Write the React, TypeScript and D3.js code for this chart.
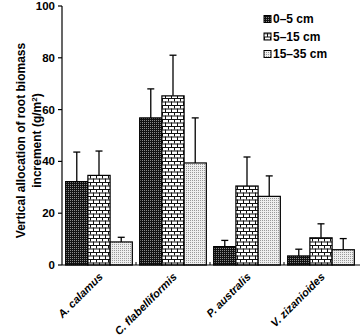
import React from "react";
import * as d3 from "d3";

const categories = ["A. calamus", "C. flabelliformis", "P. australis", "V. zizanioides"];
const seriesNames = ["0–5 cm", "5–15 cm", "15–35 cm"];
const means0to5 = [32.2, 56.8, 7.1, 3.5];
const means5to15 = [34.6, 65.3, 30.5, 10.5];
const means15to35 = [8.9, 39.4, 26.5, 5.9];
const err0to5 = [11.4, 11.2, 2.4, 2.6];
const err5to15 = [9.4, 15.7, 11.2, 5.4];
const err15to35 = [1.8, 17.4, 7.9, 4.3];
const yTicks = [0, 20, 40, 60, 80, 100];

const means = [means0to5, means5to15, means15to35];
const errs = [err0to5, err5to15, err15to35];
const patternIds = ["pDark", "pBrick", "pDots"];

export default function App() {
  const W = 360, H = 336;
  const x0 = 62, x1 = 358, yTop = 6, yBot = 265;
  const x = d3.scaleBand<string>().domain(categories).range([x0, x1]).paddingInner(0).paddingOuter(0);
  const xs = d3.scaleBand<string>().domain(seriesNames).range([0, x.bandwidth()]).paddingInner(0).paddingOuter(0.165);
  const y = d3.scaleLinear().domain([0, 100]).range([yBot, yTop]);
  const font = "'Liberation Sans', Arial, sans-serif";

  return (
    <svg width={W} height={H} style={{ position: "absolute", left: 0, top: 0, background: "#fff" }} fontFamily={font}>
      <defs>
        <pattern id="pDark" width={2} height={2} patternUnits="userSpaceOnUse">
          <rect width={2} height={2} fill="#111" />
          <rect width={1} height={1} fill="#8a8a8a" />
        </pattern>
        <pattern id="pBrick" width={6} height={7} patternUnits="userSpaceOnUse">
          <rect width={6} height={7} fill="#fff" />
          <rect x={0} y={0} width={6} height={1} fill="#111" />
          <rect x={0} y={3.5} width={6} height={1} fill="#111" />
          <rect x={0} y={0} width={1} height={3.5} fill="#111" />
          <rect x={3} y={3.5} width={1} height={3.5} fill="#111" />
        </pattern>
        <pattern id="pDots" width={2} height={2} patternUnits="userSpaceOnUse">
          <rect width={2} height={2} fill="#eee" />
          <rect width={1} height={1} fill="#999" />
        </pattern>
      </defs>

      {/* bars */}
      {categories.map((c, ci) => (
        <g key={c}>
          {seriesNames.map((s, si) => {
            const bx = (x(c) as number) + (xs(s) as number);
            const bw = xs.bandwidth();
            const v = means[si][ci];
            const e = errs[si][ci];
            const cx = bx + bw / 2;
            return (
              <g key={s}>
                <line x1={cx} x2={cx} y1={y(v)} y2={y(v + e)} stroke="#000" strokeWidth={1.3} />
                <line x1={cx - 3.5} x2={cx + 3.5} y1={y(v + e)} y2={y(v + e)} stroke="#000" strokeWidth={1.3} />
                <rect x={bx} y={y(v)} width={bw} height={yBot - y(v)} fill={`url(#${patternIds[si]})`} stroke="#000" strokeWidth={1.2} />
              </g>
            );
          })}
        </g>
      ))}

      {/* y axis */}
      <line x1={x0} x2={x0} y1={yTop} y2={yBot} stroke="#000" strokeWidth={1.2} />
      {yTicks.map((t) => (
        <g key={t}>
          <line x1={x0 - 4} x2={x0} y1={y(t)} y2={y(t)} stroke="#000" strokeWidth={1.2} />
          <text x={x0 - 7} y={y(t)} dy="0.35em" textAnchor="end" fontSize={11.5} fontWeight="bold">{t}</text>
        </g>
      ))}

      {/* x axis */}
      <line x1={x0} x2={360} y1={yBot} y2={yBot} stroke="#000" strokeWidth={1.2} />
      {categories.slice(1).map((c) => (
        <line key={c} x1={x(c) as number} x2={x(c) as number} y1={yBot} y2={yBot - 3} stroke="#000" strokeWidth={1} />
      ))}
      {categories.map((c) => {
        const cx = (x(c) as number) + x.bandwidth() / 2 + 4.5;
        return (
          <text key={c} transform={`translate(${cx},${yBot + 12.5}) rotate(-45)`} textAnchor="end"
            fontSize={11} fontWeight="bold" fontStyle="italic">{c}</text>
        );
      })}

      {/* y label */}
      <g transform={`translate(25,${(yTop + yBot) / 2 + 5}) rotate(-90)`}>
        <text x={0} y={0} textAnchor="middle" fontSize={12} fontWeight="bold">Vertical allocation of root biomass</text>
        <text x={0} y={16} textAnchor="middle" fontSize={12} fontWeight="bold">
          increment (g/m<tspan dy={-4} fontSize={8}>2</tspan><tspan dy={4}>)</tspan>
        </text>
      </g>

      {/* legend */}
      {seriesNames.map((s, si) => (
        <g key={s} transform={`translate(264,${19 + si * 17.5})`}>
          <rect x={0} y={-3.5} width={7} height={7} fill={`url(#${patternIds[si]})`} stroke="#000" strokeWidth={1} />
          <text x={9} y={0} dy="0.35em" fontSize={12} fontWeight="bold">{s}</text>
        </g>
      ))}
    </svg>
  );
}
